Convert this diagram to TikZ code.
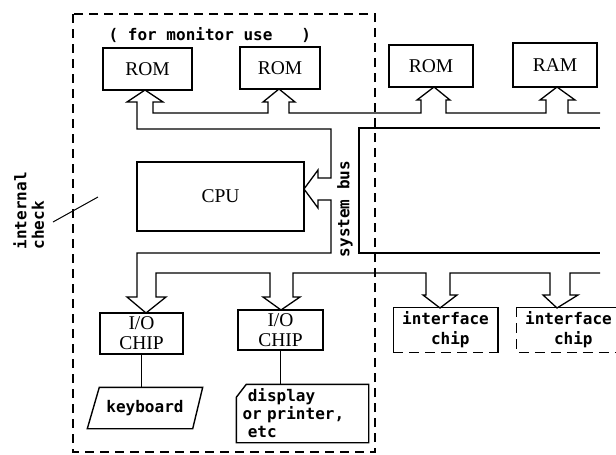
\documentclass[tikz,border=0pt]{standalone}
\usepackage{fontspec}
\setmainfont{Liberation Serif}
\newfontfamily\dotfont{DejaVu Sans Mono}
\usetikzlibrary{calc}
\begin{document}
\begin{tikzpicture}[x=1pt,y=-1pt,line width=1.4pt,
  box/.style={draw,inner sep=0pt,font=\fontsize{19.5}{20}\selectfont,align=center},
  dot/.style={inner sep=0pt,font=\dotfont\bfseries\fontsize{16}{20}\selectfont},
  bound/.style={dash pattern=on 9pt off 6pt},
  halfdash/.style={dash pattern=on 10pt off 6pt},
  bus/.style={line width=1.3pt,line join=miter}]
\useasboundingbox (0,0) rectangle (616,455);

% boundary
\draw[bound] (73,14) rectangle (375,452);

% memory chips
\node[dot,anchor=west] (mon) at (108,35) {(\ for monitor use\ \ \ )};
\node[box,minimum width=89pt,minimum height=42pt] (rom1) at (147.5,69) {ROM};
\node[box,minimum width=80pt,minimum height=42pt] (rom2) at (280,68) {ROM};
\node[box,minimum width=84pt,minimum height=42pt] (rom3) at (431,66) {ROM};
\node[box,minimum width=84pt,minimum height=44pt] (ram) at (555,65) {RAM};

% CPU
\node[box,minimum width=167pt,minimum height=69pt] (cpu) at (220.5,196.5) {CPU};

% I/O chips
\node[box,minimum width=83pt,minimum height=41pt] (io1) at (141.5,333.5) {I/O\\CHIP};
\node[box,minimum width=85pt,minimum height=40pt] (io2) at (280.5,330) {I/O\\CHIP};

% interface chips
\node[dot,minimum width=103pt,minimum height=44pt,align=left] (if1) at (445.5,330) {interface\\\ \ \ chip};
\draw[solid,line width=1.6pt] (if1.south west) -- (if1.north west) -- (if1.north east) -- (if1.south east);
\draw[halfdash] (if1.south west) -- (if1.south east);
\node[dot,minimum width=103pt,minimum height=44pt,align=left] (if2) at (568.5,330) {interface\\\ \ \ chip};
\draw[solid,line width=1.6pt] (if2.north west) -- (if2.north east);
\draw[halfdash] (if2.north west) -- (if2.south west) -- (if2.south east);

% peripherals
\node[dot,minimum width=114pt,minimum height=40pt] (kb) at (145,408) {keyboard};
\draw (kb.south west) -- ($(kb.north west)+(12,0)$) -- (kb.north east)
      -- ($(kb.south east)+(-10,0)$) -- cycle;
\node[dot,minimum width=131pt,minimum height=57pt,text width=120pt,align=left,
      font=\dotfont\bfseries\fontsize{16}{18}\selectfont] (disp) at (302.5,413.5)
      {\ display\\or printer,\\\ etc};
\draw (disp.south west) -- ($(disp.north west)+(0,13)$) -- ($(disp.north west)+(10,0)$)
      -- (disp.north east) -- (disp.south east) -- cycle;

\draw (io1.south) -- (io1.south |- kb.north);
\draw (io2.south) -- (io2.south |- disp.north);

% system bus
\draw[bus] (600,113) -- (568,113) -- (568,100) -- (575,100) -- (557,87) -- (540,100) -- (546,100) -- (546,113)
 -- (446,113) -- (446,100) -- (450,100) -- (434,87) -- (417,100) -- (421,100) -- (421,113)
 -- (289,113) -- (289,102) -- (295,102) -- (279,89) -- (263,102) -- (268,102) -- (268,113)
 -- (153,113) -- (153,102) -- (163,102) -- (145,90) -- (127,102) -- (137,102)
 -- (137,129) -- (331,129) -- (331,178) -- (318,178) -- (318,170) -- (304,189) -- (318,208) -- (318,200) -- (331,200)
 -- (331,253) -- (137,253) -- (137,297) -- (127,297) -- (146,313) -- (166,297) -- (156,297) -- (156,273)
 -- (270,273) -- (270,297) -- (263,297) -- (281,310) -- (300,297) -- (293,297) -- (293,273)
 -- (426,273) -- (426,295) -- (423,295) -- (440,308) -- (457,295) -- (450,295) -- (450,273)
 -- (550,273) -- (550,295) -- (543,295) -- (557,308) -- (578,295) -- (570,295) -- (570,273) -- (600,273);
\draw[bus] (600,128) -- (359,128) -- (359,253) -- (600,253);
\node[dot,rotate=90] (sbus) at (345,209) {system bus};

% internal check
\node[dot,rotate=90,anchor=west] (int) at (20,250) {internal};
\node[dot,rotate=90,anchor=west] (chk) at (38,250) {check};
\coordinate (chkend) at (98,197);
\draw[line width=1pt] (53,222) -- (chkend);
\end{tikzpicture}
\end{document}
